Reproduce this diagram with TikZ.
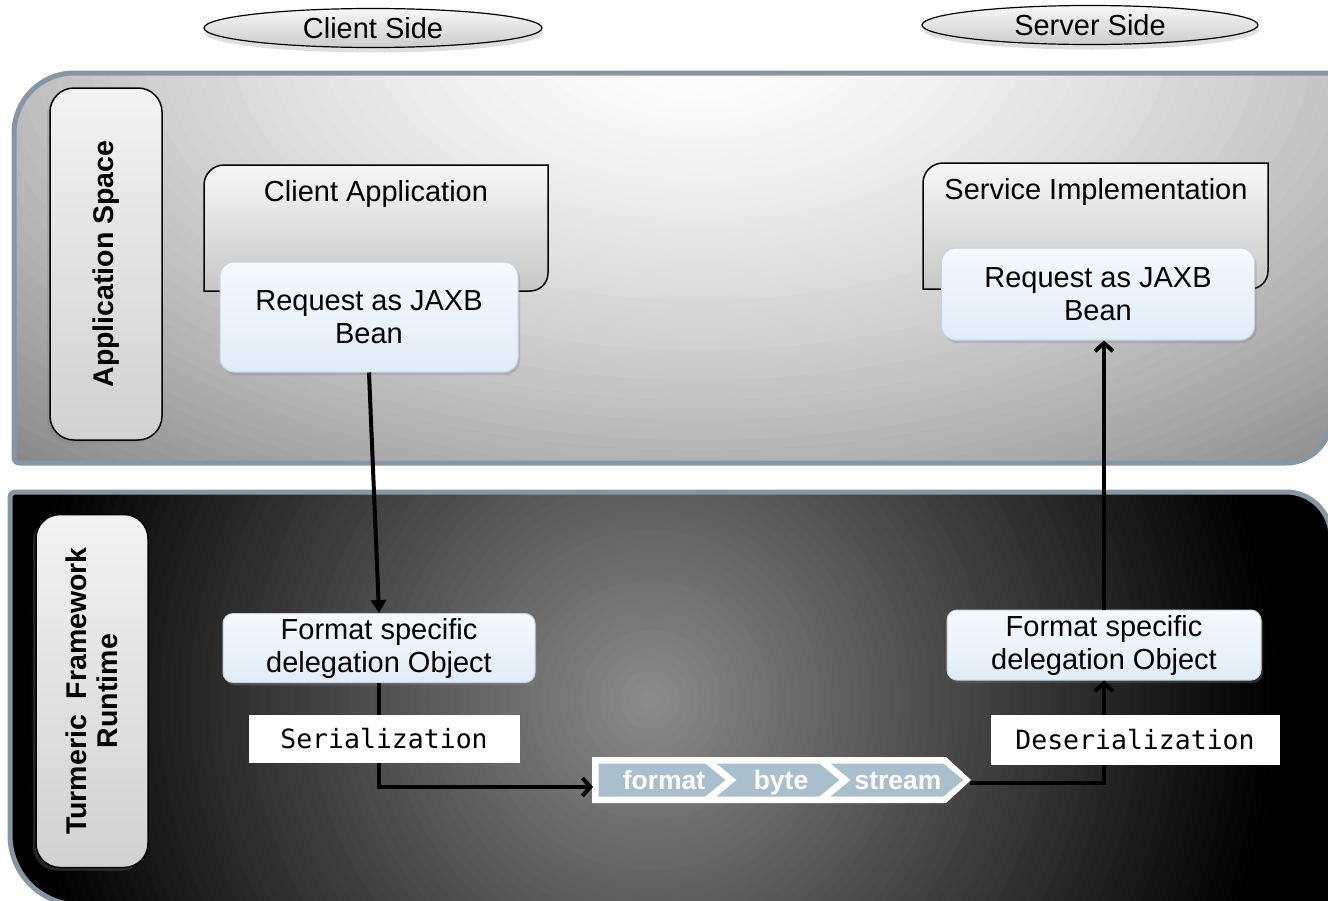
\documentclass[tikz,border=0pt]{standalone}
\usepackage{fontspec}
\setmainfont{Liberation Sans}
\newfontfamily\codefont{DejaVu Sans Mono}
\usetikzlibrary{arrows.meta,shapes.geometric,shadows}

\definecolor{panelrim}{HTML}{8696A2}
\definecolor{beantop}{HTML}{F6F9FD}
\definecolor{beanbot}{HTML}{E1ECF7}
\definecolor{beanrim}{HTML}{C6D3DF}
\definecolor{chevfill}{HTML}{AABFCD}

\tikzset{
  sidetag/.style={ellipse, draw=black, line width=1.2pt, top color=black!3, bottom color=black!20,
    drop shadow={opacity=0.25, shadow xshift=1pt, shadow yshift=-5pt},
    minimum width=338pt, minimum height=39pt, inner sep=0pt, font=\fontsize{29}{33}\selectfont},
  layerlabel/.style={draw=black, line width=1.5pt, rounded corners=24pt, top color=black!5, bottom color=black!18,
    rotate=90, minimum width=352pt, minimum height=112pt, align=center,
    font=\fontsize{28.5}{31}\selectfont\bfseries,
    drop shadow={opacity=0.3, shadow xshift=-3pt, shadow yshift=-3pt}},
  appframe/.style={draw=black, line width=1.5pt, top color=black!3, bottom color=black!22},
  apptitle/.style={inner sep=0pt, font=\fontsize{29}{33}\selectfont},
  beanbox/.style={draw=beanrim, line width=1pt, rounded corners=14pt, top color=beantop, bottom color=beanbot,
    align=center, inner sep=2pt, font=\fontsize{29}{33}\selectfont,
    drop shadow={opacity=0.3, shadow xshift=2pt, shadow yshift=-3pt}},
  codelabel/.style={fill=white, inner sep=0pt, font=\codefont\fontsize{26.5}{30}\selectfont},
  chevron/.style={fill=chevfill, draw=white, line width=3pt, line join=miter},
  chevtext/.style={text=white, anchor=base, inner sep=0pt, font=\fontsize{26.5}{30}\selectfont\bfseries},
  panelrimline/.style={draw=panelrim, line width=5pt},
  flowline/.style={draw=black, line width=4pt},
  barb/.style={-{Straight Barb[length=8pt,width=18pt]}}
}

\begin{document}
\begin{tikzpicture}[x=1pt,y=-1pt]
		%%%%% START %%%%%
		\useasboundingbox (0,0) rectangle (1328,900);
		\clip (0,0) rectangle (1328,900);
		
		% application space panel
		\begin{scope}
			\clip (14,457) -- (14,133) .. controls (14,100) and (41,73) .. (74,73) -- (1331,73) -- (1331,418) .. controls (1331,443) and (1311,463) .. (1286,463) -- (20,463) .. controls (16,463) and (14,461) .. (14,457) -- cycle;
			\foreach \k in {62,...,1} {
				\pgfmathsetmacro{\d}{\k/50}
				\pgfmathsetmacro{\c}{38*\d^1.5}
				\fill[black!\c] (700,40) ellipse ({900*\d} and {500*\d});
			}
		\end{scope}
		\draw[panelrimline] (14,457) -- (14,133) .. controls (14,100) and (41,73) .. (74,73) -- (1340,73) -- (1331,73) -- (1331,418) .. controls (1331,443) and (1311,463) .. (1286,463) -- (20,463) .. controls (16,463) and (14,461) .. (14,457) -- cycle;
		
		% runtime panel
		\begin{scope}
			\clip (10,498) .. controls (10,494) and (12,492) .. (16,492) -- (1286,492) .. controls (1311,492) and (1331,512) .. (1331,537) -- (1331,910) -- (80,905) .. controls (41,905) and (10,874) .. (10,835) -- cycle;
			\foreach \r in {760,750,...,10} {
				\pgfmathsetmacro{\c}{min(100,45+0.087*\r)}
				\fill[black!\c] (650,700) circle (\r);
			}
		\end{scope}
		\draw[panelrimline] (10,498) .. controls (10,494) and (12,492) .. (16,492) -- (1286,492) .. controls (1311,492) and (1331,512) .. (1331,537) -- (1331,910) -- (80,905) .. controls (41,905) and (10,874) .. (10,835) -- cycle;
		
		\node[sidetag] (clientside) at (373,28) {Client Side};
		\node[sidetag, minimum width=336pt] (serverside) at (1090,25) {Server Side};
		
		\node[layerlabel] (appspace) at (106,264) {Application Space};
		\node[layerlabel, minimum width=353pt] (runtime) at (92,691) {Turmeric~ Framework\\Runtime};
		
		% application frames
		\draw[appframe] (204,291) -- (204,185) .. controls (204,174) and (213,165) .. (224,165) -- (548,165) -- (548,273) .. controls (548,283) and (540,291) .. (530,291) -- cycle;
		\node[apptitle] (cliapp) at (376,194) {Client Application};
		\draw[appframe] (923,289) -- (923,183) .. controls (923,172) and (932,163) .. (943,163) -- (1268,163) -- (1268,271) .. controls (1268,281) and (1260,289) .. (1250,289) -- cycle;
		\node[apptitle] (srvapp) at (1096,192) {Service Implementation};
		
		\node[beanbox, minimum width=298pt, minimum height=110pt] (clibean) at (369,317) {Request as JAXB\\Bean};
		\node[beanbox, minimum width=313pt, minimum height=92pt] (srvbean) at (1098,294) {Request as JAXB\\Bean};
		
		\node[beanbox, minimum width=312pt, minimum height=69pt, rounded corners=10pt] (clifmt) at (379,648) {Format specific\\delegation Object};
		\node[beanbox, minimum width=314pt, minimum height=70pt, rounded corners=10pt] (srvfmt) at (1104,645) {Format specific\\delegation Object};
		
		% byte stream chevrons
		\fill[white] (592,757) -- (946,757) -- (971,780) -- (946,803) -- (592,803) -- cycle;
		\draw[chevron] (597,762) -- (706,762) -- (728,780) -- (706,798) -- (597,798) -- cycle;
		\draw[chevron] (712,762) -- (820,762) -- (842,780) -- (820,798) -- (712,798) -- (734,780) -- cycle;
		\draw[chevron] (826,762) -- (944,762) -- (966,780) -- (944,798) -- (826,798) -- (848,780) -- cycle;
		\node[chevtext] (fmt) at (664,789) {format};
		\node[chevtext] (byt) at (781,789) {byte};
		\node[chevtext] (strm) at (898,789) {stream};
		\coordinate (bandL) at (593,787);
		\coordinate (bandR) at (970,783);
		
		% flow
		\draw[flowline, -{Triangle[length=13pt,width=15pt]}] (clibean.south) -- (clifmt.north);
		\draw[flowline, barb] (clifmt.south) |- (bandL);
		\draw[flowline, barb] (bandR) -| (srvfmt.south);
		\draw[flowline, barb] (srvfmt.north) -- (srvfmt.north |- srvbean.south);
		
		\node[codelabel, minimum width=271pt, minimum height=48pt] (ser) at (384,739) {Serialization};
		\node[codelabel, minimum width=289pt, minimum height=50pt] (deser) at (1135,740) {Deserialization};
		
		%%%%% END %%%%%
\end{tikzpicture}
\end{document}
